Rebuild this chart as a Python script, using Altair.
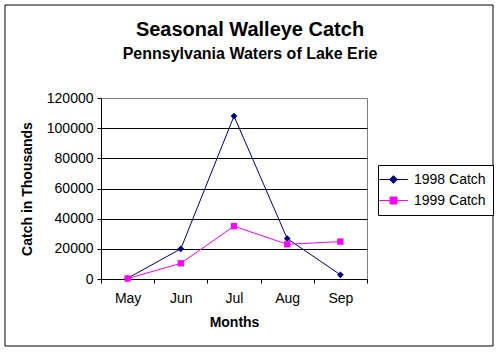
import altair as alt
import pandas as pd

months = ["May", "Jun", "Jul", "Aug", "Sep"]
catch_1998 = [500, 20000, 108000, 26800, 2800]
catch_1999 = [300, 10400, 35000, 23000, 24800]
series_names = ["1998 Catch", "1999 Catch"]
series_colors = ["#000080", "#FF00FF"]
y_ticks = [0, 20000, 40000, 60000, 80000, 100000, 120000]

rows = []
for m, v in zip(months, catch_1998):
    rows.append({"month": m, "series": series_names[0], "value": v})
for m, v in zip(months, catch_1999):
    rows.append({"month": m, "series": series_names[1], "value": v})
df = pd.DataFrame(rows)
df["leg"] = df["series"]

FONT = "Liberation Sans"

leg_paths = [
    "M-2.05,0H2.05M0,-0.55L0.55,0L0,0.55L-0.55,0Z",
    "M-2.05,0H2.05M-0.5,-0.5H0.5V0.5H-0.5Z",
]
legend = alt.Legend(title=None, orient="none", legendX=277, legendY=67,
                    strokeColor="black", fillColor="white", padding=7,
                    symbolSize=196, symbolStrokeWidth=1, symbolOpacity=1,
                    symbolOffset=1, labelOffset=13, rowPadding=6,
                    labelFontSize=14, labelFont=FONT, labelColor="black")

x_enc = alt.X(
    "month:N", sort=months, bandPosition=0.5,
    scale=alt.Scale(type="band", paddingInner=0, paddingOuter=0),
    axis=alt.Axis(title="Months", labelAngle=0, tickBand="extent", tickSize=4,
                  tickColor="black", domainColor="black", labelPadding=8,
                  titlePadding=10, grid=False),
)
y_enc = alt.Y(
    "value:Q",
    scale=alt.Scale(domain=[0, 120000], nice=False),
    axis=alt.Axis(title="Catch in Thousands", values=y_ticks, format="d",
                  tickSize=4, tickColor="black", domainColor="black",
                  labelPadding=4, titlePadding=12, grid=True,
                  gridColor={"condition": {"test": "datum.value == 120000", "value": "#808080"},
                             "value": "black"}),
)
color_enc = alt.Color("series:N", scale=alt.Scale(domain=series_names, range=series_colors),
                      legend=legend)

base = alt.Chart(df)

lines = base.mark_line(strokeWidth=1).encode(x=x_enc, y=y_enc, color=color_enc, detail="series:N")

leg_layer = base.mark_point(filled=True, size=1, strokeWidth=1, opacity=1).encode(
    x=x_enc, y=y_enc,
    shape=alt.Shape("leg:N", scale=alt.Scale(domain=series_names, range=leg_paths), legend=legend),
    fill=alt.Fill("leg:N", scale=alt.Scale(domain=series_names, range=series_colors), legend=legend),
    stroke=alt.Stroke("leg:N", scale=alt.Scale(domain=series_names, range=series_colors), legend=legend),
)

pts98 = base.transform_filter(alt.datum.series == series_names[0]).mark_point(
    shape="diamond", filled=True, size=45, opacity=1, color=series_colors[0]).encode(x=x_enc, y=y_enc)
pts99 = base.transform_filter(alt.datum.series == series_names[1]).mark_point(
    shape="square", filled=True, size=40, opacity=1, color=series_colors[1]).encode(x=x_enc, y=y_enc)

frame = alt.Chart(pd.DataFrame({"a": [0]})).mark_rect(
    fill="transparent", stroke="black", strokeWidth=1).encode(
    x=alt.value(-96), x2=alt.value(392), y=alt.value(-93), y2=alt.value(248))

chart = alt.layer(lines, leg_layer, pts98, pts99, frame).properties(
    width=266, height=181,
    background="white",
    title=alt.TitleParams(text="Seasonal Walleye Catch", subtitle="Pennsylvania Waters of Lake Erie",
                          anchor="middle", frame="group", dx=16, offset=-57, font=FONT, fontSize=20,
                          fontWeight="bold", subtitleFont=FONT, subtitleFontSize=16,
                          subtitleFontWeight="bold", color="black", subtitleColor="black",
                          subtitlePadding=6),
    autosize=alt.AutoSizeParams(type="none"),
    padding={"left": 101, "top": 98, "right": 134, "bottom": 73},
).configure_view(stroke="#808080", strokeWidth=1).configure_axis(
    labelFont=FONT, labelFontSize=14, labelColor="black",
    titleFont=FONT, titleFontSize=14, titleFontWeight="bold", titleColor="black",
    domainWidth=1, tickWidth=1, gridWidth=1,
)

chart.save("out.html", embed_options={"renderer": "svg", "actions": False})
